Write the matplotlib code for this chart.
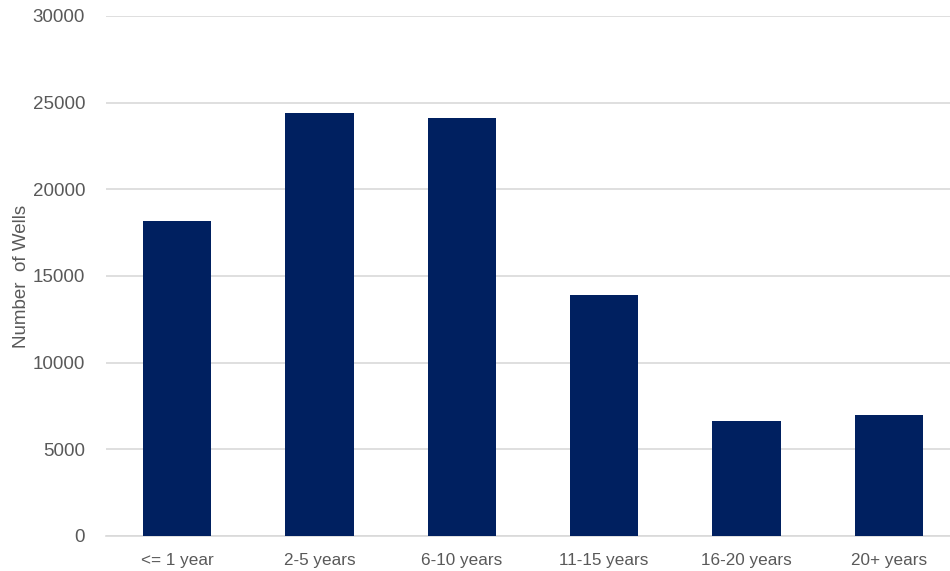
import matplotlib.pyplot as plt
import numpy as np

plt.rcParams['font.family'] = ['Liberation Sans', 'DejaVu Sans']

categories = ["<= 1 year", "2-5 years", "6-10 years", "11-15 years", "16-20 years", "20+ years"]
wells = [18200, 24400, 24100, 13900, 6650, 7000]
yticks = [0, 5000, 10000, 15000, 20000, 25000, 30000]

text_col = "#595959"
grid_col = "#d9d9d9"

fig = plt.figure(figsize=(9.5, 5.71), dpi=100)
ax = fig.add_axes([106 / 950, 35 / 571, 854 / 950, 520 / 571])

x = np.arange(len(categories))
ax.bar(x, wells, width=0.48, color="#002060", zorder=3)

ax.set_xlim(-0.5, len(categories) - 0.5)
ax.set_ylim(0, 30000)
ax.set_yticks(yticks)
ax.set_xticks(x)
ax.set_xticklabels(categories)
ax.yaxis.grid(True, color=grid_col, linewidth=1.2, zorder=0)
ax.tick_params(axis="both", length=0, colors=text_col)
ax.tick_params(axis="x", pad=12, labelsize=12.3)
ax.tick_params(axis="y", pad=15, labelsize=13.5)
for s in ["top", "right", "left"]:
    ax.spines[s].set_visible(False)
ax.spines["bottom"].set_color(grid_col)
ax.spines["bottom"].set_linewidth(1.2)

ax.set_ylabel("Number  of Wells", fontsize=13.5, color=text_col)
ax.yaxis.set_label_coords(-76 / 854, 0.5)

fig.savefig("out.png", dpi=100)
